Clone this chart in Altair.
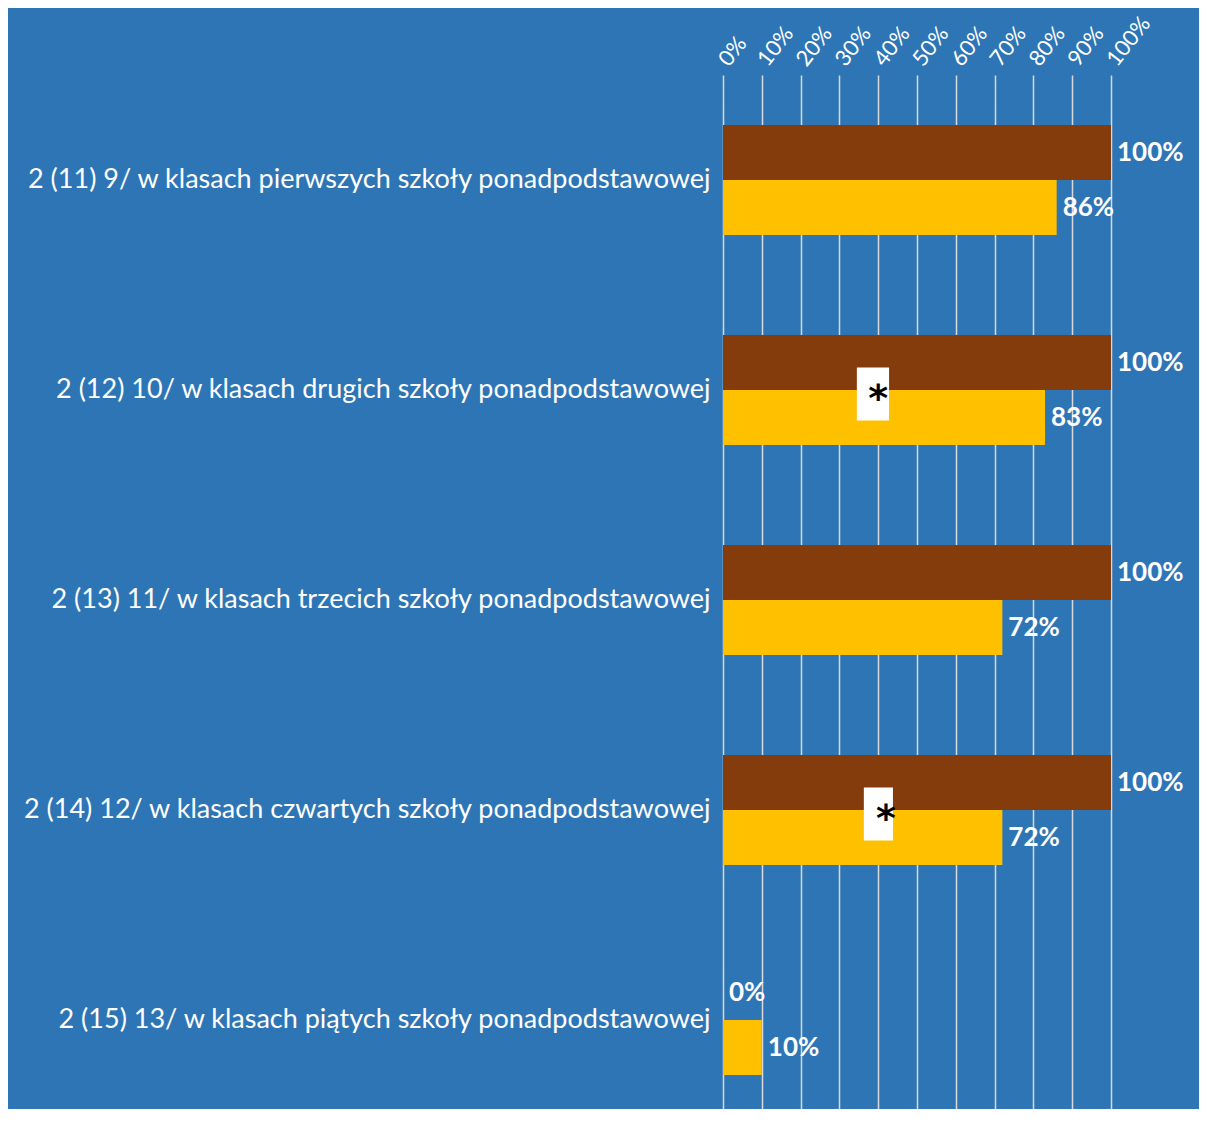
import altair as alt
import pandas as pd

FONT = "Lato, sans-serif"

categories = [
    "2 (11) 9/ w klasach pierwszych szkoły ponadpodstawowej",
    "2 (12) 10/ w klasach drugich szkoły ponadpodstawowej",
    "2 (13) 11/ w klasach trzecich szkoły ponadpodstawowej",
    "2 (14) 12/ w klasach czwartych szkoły ponadpodstawowej",
    "2 (15) 13/ w klasach piątych szkoły ponadpodstawowej",
]
series_names = ["Seria 1", "Seria 2"]
brown_values = [1.00, 1.00, 1.00, 1.00, 0.00]
gold_values = [0.86, 0.83, 0.72, 0.72, 0.10]
x_ticks = [0.0, 0.1, 0.2, 0.3, 0.4, 0.5, 0.6, 0.7, 0.8, 0.9, 1.0]

note_categories = [categories[1], categories[3]]
note_x_start = [0.345, 0.363]
note_x_end = [0.428, 0.438]
note_star_x = [0.40, 0.42]
note_symbol = ["*", "*"]

rows = []
for c, b, g in zip(categories, brown_values, gold_values):
    rows.append({"cat": c, "series": series_names[0], "value": b})
    rows.append({"cat": c, "series": series_names[1], "value": g})
df = pd.DataFrame(rows)

notes = pd.DataFrame({
    "cat": note_categories,
    "value": note_x_start,
    "value_end": note_x_end,
    "star": note_star_x,
    "symbol": note_symbol,
})

y_axis = alt.Axis(
    title=None, labelColor="white", labelFontSize=27, labelFont=FONT,
    labelLimit=900, labelPadding=13, ticks=False, domain=False, grid=False,
)
y_scale = alt.Scale(range=[0, 1050], paddingInner=100 / 210, paddingOuter=50 / 210)
y_enc = alt.Y("cat:N", sort=categories, scale=y_scale, axis=y_axis)

x_axis = alt.Axis(
    orient="top", values=x_ticks, format=".0%", labelAngle=308,
    labelAlign="left", labelBaseline="middle", labelColor="white",
    labelFontSize=22, labelFont=FONT, labelPadding=12, ticks=False,
    labelOverlap=False, labelBound=False, labelFlush=False,
    domain=False, grid=True, gridColor="#D9D9D9", gridWidth=1.5, title=None,
)
x_scale = alt.Scale(domain=[0, 1], nice=False)
x_enc = alt.X("value:Q", scale=x_scale, axis=x_axis)

yoff = alt.YOffset("series:N", sort=series_names,
                   scale=alt.Scale(paddingInner=0, paddingOuter=0))
color = alt.Color("series:N",
                  scale=alt.Scale(domain=series_names, range=["#843C0C", "#FFC000"]),
                  legend=None)

bars = alt.Chart(df).mark_bar().encode(x=x_enc, y=y_enc, yOffset=yoff, color=color)

labels = alt.Chart(df).mark_text(
    align="left", baseline="middle", dx=6, color="white",
    fontWeight="bold", fontSize=26, font=FONT,
).encode(x=x_enc, y=y_enc, yOffset=yoff, text=alt.Text("value:Q", format=".0%"))

boxes = alt.Chart(notes).mark_bar(color="white", size=53, yOffset=4).encode(
    x=alt.X("value:Q", scale=x_scale, axis=x_axis), x2="value_end:Q", y=y_enc
)

stars = alt.Chart(notes).mark_text(
    color="black", fontWeight="bold", fontSize=38, baseline="middle", dy=10,
    font="DejaVu Sans",
).encode(x=alt.X("star:Q", scale=x_scale, axis=x_axis), y=y_enc, text="symbol:N")

chart = alt.layer(bars, boxes, labels, stars).properties(
    width=388, height=1034,
    autosize=alt.AutoSizeParams(type="none"),
    padding={"left": 715, "top": 67, "right": 88, "bottom": 0},
).configure(background="#2E75B6").configure_view(stroke=None)

chart.save("out.html", embed_options={"renderer": "svg", "actions": False})
